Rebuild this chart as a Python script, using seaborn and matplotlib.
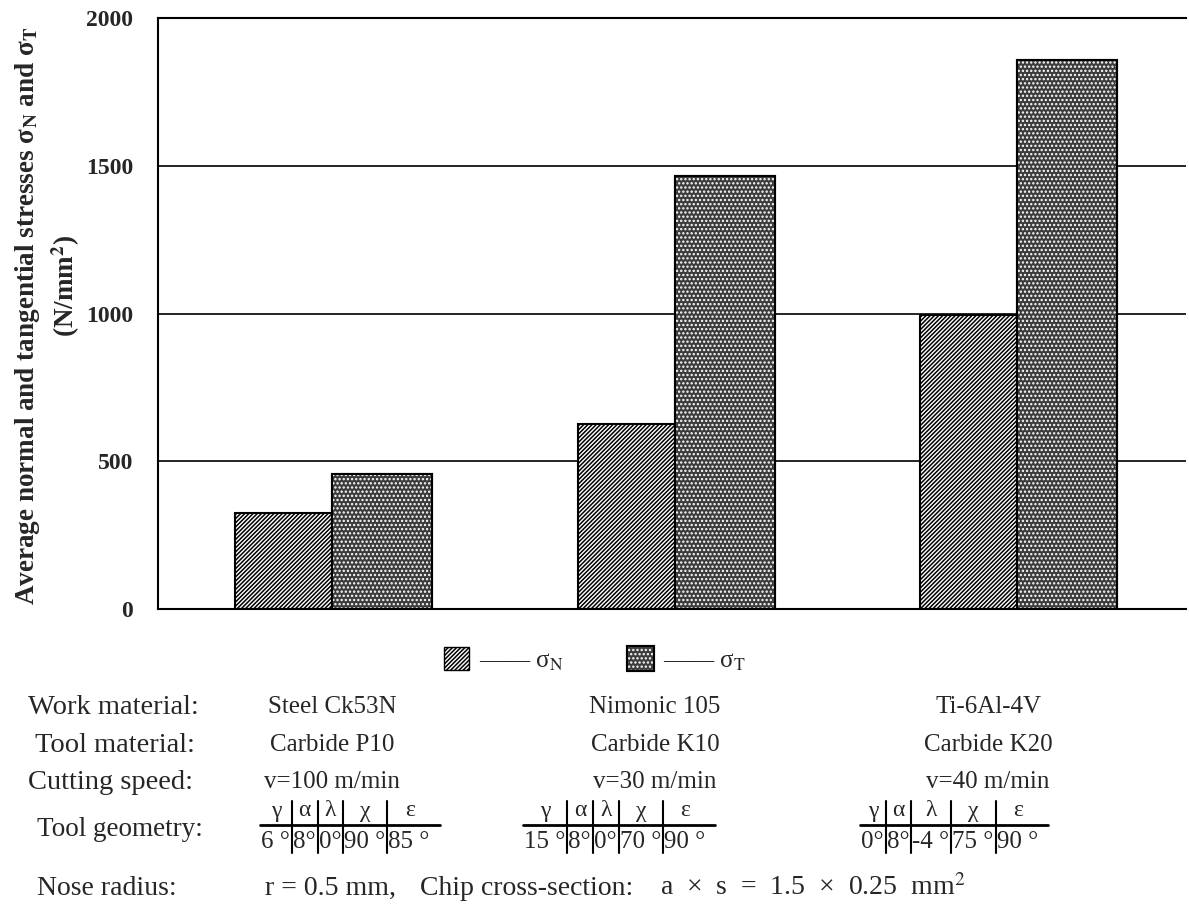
import matplotlib
matplotlib.use('Agg')  # no display
import matplotlib.pyplot as plt
import matplotlib.patheffects as pe
import matplotlib.patches as mpatches
from matplotlib.lines import Line2D
import seaborn as sns
import pandas as pd

# Data
materials = ['Steel Ck53N', 'Nimonic 105', 'Ti-6Al-4V']
sigma_n = [325, 625, 995]
sigma_t = [453, 1462, 1855]
tool_materials = ['Carbide P10', 'Carbide K10', 'Carbide K20']
cutting_speeds = ['v=100 m/min', 'v=30 m/min', 'v=40 m/min']
geometry_symbols = ['γ', 'α', 'λ', 'χ', 'ε']
geometry_values = [
    ['6 °', '8°', '0°', '90 °', '85 °'],
    ['15 °', '8°', '0°', '70 °', '90 °'],
    ['0°', '8°', '-4 °', '75 °', '90 °'],
]
y_ticks = [0, 500, 1000, 1500, 2000]
nose_parts = ['r = 0.5 mm,', 'Chip cross-section:', 'a  ×  s  =  1.5  ×  0.25  mm$^2$']

W, H = 1189, 921


def px(x, y):
    # pixel position (from top-left) -> figure fraction
    return x / W, 1 - y / H


sns.set_theme(style='white')
plt.rcParams['font.family'] = ['Liberation Serif', 'DejaVu Serif']
plt.rcParams['mathtext.fontset'] = 'stix'
plt.rcParams['hatch.linewidth'] = 1.1

df = pd.DataFrame({
    'material': materials * 2,
    'stress': ['σN'] * 3 + ['σT'] * 3,
    'value': sigma_n + sigma_t,
})

fig = plt.figure(figsize=(W / 100, H / 100), dpi=100)
ax = fig.add_axes([158 / W, 1 - 609 / H, (1186 - 158) / W, (609 - 18) / H])

sns.barplot(data=df, x='material', y='value', hue='stress',
            palette=['white', '#404040'], saturation=1, width=0.572,
            edgecolor='black', linewidth=1.5, legend=False, ax=ax)

# sigma_N: dense diagonal hatch, sigma_T: dark stipple with black outline
hatch_n = '/' * 8
hatch_t = '....'
face_t = '#3c3c3c'
for p in ax.containers[0]:
    p.set_facecolor('white')
    p.set_edgecolor('black')
    p.set_hatch(hatch_n)
outline = [pe.Stroke(linewidth=3, foreground='black'), pe.Normal()]
for p in ax.containers[1]:
    p.set_facecolor(face_t)
    p.set_edgecolor('white')
    p.set_linewidth(0)
    p.set_hatch(hatch_t)
    p.set_path_effects(outline)

ax.set_ylim(0, 2000)
ax.set_xlim(-0.511, 2.49)
ax.set_yticks(y_ticks)
ax.set_xticks([])
ax.set_xlabel('')
ax.set_ylabel('')
ax.set_axisbelow(True)
ax.yaxis.grid(True, color='black', linewidth=1.2)
ax.tick_params(axis='y', length=0, pad=18, labelsize=17)
for lbl in ax.get_yticklabels():
    lbl.set_fontweight('bold')
for side in ['top', 'left', 'bottom']:
    ax.spines[side].set_color('black')
    ax.spines[side].set_linewidth(1.5)
ax.spines['right'].set_visible(False)

# y label, two lines
fig.text(*px(28, 316), 'Average normal and tangential stresses σ$_\\mathbf{N}$ and σ$_\\mathbf{T}$',
         rotation=90, ha='center', va='center', fontsize=19.5, fontweight='bold')
fig.text(*px(66, 286), '(N/mm$^\\mathbf{2}$)',
         rotation=90, ha='center', va='center', fontsize=19.5, fontweight='bold')

# legend below the plot
h_n = mpatches.Patch(facecolor='white', edgecolor='black', hatch=hatch_n, linewidth=1)
h_t = mpatches.Patch(facecolor=face_t, edgecolor='white', hatch=hatch_t, linewidth=0,
                     path_effects=outline)
fig.legend(handles=[h_n, h_t], labels=['—— σ$_\\mathrm{N}$', '—— σ$_\\mathrm{T}$'], loc='center',
           bbox_to_anchor=px(595, 660), ncol=2, frameon=False, fontsize=18,
           handlelength=1.0, handleheight=1.0, handletextpad=0.4, columnspacing=2.6)

# parameter table
fs_lab = 20.5
fs = 18
row_y = {'work': 707, 'tool': 745, 'speed': 782, 'geom': 829, 'nose': 888}
col_x = [332, 655, 988]
table_x = [260, 523, 860]

fig.text(*px(28, row_y['work']), 'Work material:', ha='left', va='center', fontsize=fs_lab)
fig.text(*px(35, row_y['tool']), 'Tool material:', ha='left', va='center', fontsize=fs_lab)
fig.text(*px(28, row_y['speed']), 'Cutting speed:', ha='left', va='center', fontsize=fs_lab)
fig.text(*px(37, row_y['geom']), 'Tool geometry:', ha='left', va='center', fontsize=fs_lab - 1)
fig.text(*px(37, row_y['nose']), 'Nose radius:', ha='left', va='center', fontsize=fs_lab - 0.5)

for i in range(3):
    fig.text(*px(col_x[i], row_y['work']), materials[i], ha='center', va='center', fontsize=fs)
    fig.text(*px(col_x[i], row_y['tool']), tool_materials[i], ha='center', va='center', fontsize=fs)
    fig.text(*px(col_x[i], row_y['speed']), cutting_speeds[i], ha='center', va='center', fontsize=fs)

renderer = fig.canvas.get_renderer()
y_head, y_line, y_val = 811, 825, 842
for i in range(3):
    x = table_x[i]
    seps = []
    for sym, val in zip(geometry_symbols, geometry_values[i]):
        t = fig.text(*px(x + 1, y_val), val, ha='left', va='center', fontsize=fs)
        w = t.get_window_extent(renderer).width
        end = x + 1 + w + 2
        fig.text(*px((x + end) / 2, y_head), sym, ha='center', va='center', fontsize=fs - 1)
        seps.append(end)
        x = end
    x_end = seps.pop() + 8
    fig.add_artist(Line2D([table_x[i] / W, x_end / W], [1 - y_line / H] * 2,
                          transform=fig.transFigure, color='black', linewidth=2))
    for s in seps:
        fig.add_artist(Line2D([s / W] * 2, [1 - (y_head - 10) / H, 1 - (y_val + 11) / H],
                              transform=fig.transFigure, color='black', linewidth=1.5))

for x0, part in zip([265, 420, 660], nose_parts):
    fig.text(*px(x0, row_y['nose']), part, ha='left', va='center', fontsize=20)

fig.savefig('out.png', dpi=100)
plt.close(fig)
